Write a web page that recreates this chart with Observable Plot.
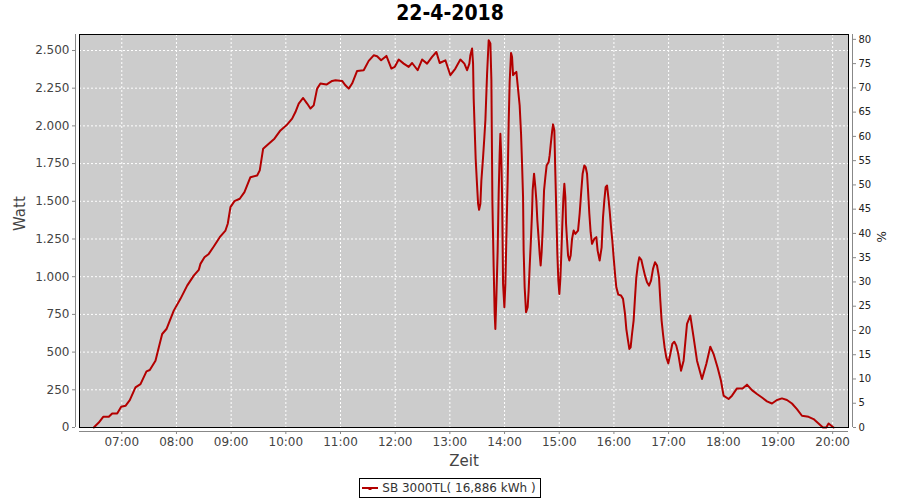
<!DOCTYPE html>
<html>
<head>
<meta charset="utf-8">
<script src="https://cdn.jsdelivr.net/npm/d3@7"></script>
<script src="https://cdn.jsdelivr.net/npm/@observablehq/plot@0.6"></script>
<style>
  html, body { margin: 0; padding: 0; background: #ffffff; }
  body { width: 900px; height: 500px; overflow: hidden; font-family: "DejaVu Sans", sans-serif; }
  #title { height: 30px; line-height: 27px; text-align: center; font-family: "Liberation Sans Narrow", "DejaVu Sans Condensed", sans-serif; font-weight: bold; font-size: 21px; color: #000; }
  #chart svg { display: block; }
  #legend { margin-top: 7px; text-align: center; height: 20px; }
  #legend .box { display: inline-flex; align-items: center; height: 18px; border: 1px solid #000; padding: 0 4px 0 2px; font-size: 12px; color: #333; font-family: "DejaVu Sans", sans-serif; }
  #legend svg { margin-right: 4px; }
</style>
</head>
<body>
<div id="title">22-4-2018</div>
<div id="chart"></div>
<div id="legend"><span class="box"><svg width="16" height="8"><line x1="0" y1="4" x2="16" y2="4" stroke="#b30000" stroke-width="2"/><rect x="6.5" y="3" width="3" height="3" fill="#b30000"/></svg><span id="legendText"></span></span></div>
<script>
// ---- data ----
const day = "2018-04-22";
const seriesName = "SB 3000TL( 16,886 kWh )";
const times = [
  "06:29:17","06:34:46","06:39:36","06:45:44","06:49:28","06:54:57","06:59:20","07:04:04","07:08:47","07:15:01",
  "07:20:31","07:27:06","07:30:43","07:36:58","07:40:35","07:44:19","07:49:02","07:57:02","08:04:23","08:11:44",
  "08:18:58","08:24:27","08:26:19","08:30:43","08:35:26","08:40:55","08:47:30","08:53:45","08:56:16","08:59:14",
  "09:03:37","09:09:26","09:14:35","09:21:10","09:28:31","09:31:23","09:35:07","09:41:15","09:47:30","09:54:05",
  "10:00:40","10:06:55","10:10:32","10:14:09","10:18:59","10:23:22","10:26:59","10:30:36","10:34:20","10:37:57",
  "10:44:32","10:50:47","10:54:24","11:01:45","11:05:23","11:09:00","11:12:44","11:18:13","11:25:27","11:30:56",
  "11:36:25","11:40:09","11:44:33","11:50:22","11:55:50","11:59:27","12:03:51","12:09:20","12:14:49","12:18:33",
  "12:24:41","12:29:30","12:34:59","12:40:28","12:45:11","12:48:49","12:55:04","13:00:33","13:06:02","13:11:31",
  "13:15:55","13:18:52","13:21:23","13:22:29","13:24:21","13:25:27","13:26:07","13:27:13","13:28:18","13:29:51",
  "13:30:57","13:32:03","13:33:28","13:34:34","13:36:26","13:37:52","13:38:58","13:40:50","13:42:35","13:44:27",
  "13:45:33","13:46:39","13:48:03","13:49:09","13:49:55","13:51:01","13:52:26","13:53:32","13:54:38","13:55:24",
  "13:56:30","13:57:16","13:58:22","13:59:48","14:00:54","14:02:00","14:03:24","14:04:30","14:05:36","14:07:08",
  "14:08:14","14:09:20","14:10:45","14:12:57","14:16:34","14:18:06","14:19:12","14:20:18","14:20:57","14:22:03",
  "14:23:35","14:25:20","14:26:26","14:27:32","14:29:04","14:30:10","14:30:50","14:32:22","14:33:47","14:34:53",
  "14:35:59","14:37:25","14:38:31","14:39:36","14:40:42","14:41:48","14:43:20","14:44:46","14:46:11","14:48:23",
  "14:49:28","14:50:34","14:52:06","14:53:12","14:54:38","14:55:44","14:56:50","14:57:56","14:59:02","15:00:08",
  "15:01:14","15:02:19","15:03:25","15:04:31","15:05:37","15:06:43","15:07:29","15:08:35","15:09:41","15:11:06",
  "15:12:32","15:14:04","15:15:49","15:17:41","15:20:38","15:22:23","15:24:15","15:25:40","15:27:32","15:28:58",
  "15:30:30","15:31:36","15:33:02","15:34:27","15:35:59","15:38:30","15:40:42","15:42:08","15:44:20","15:46:31",
  "15:48:03","15:49:29","15:50:55","15:52:27","15:53:52","15:55:18","15:56:50","15:58:15","15:59:41","16:01:13",
  "16:02:38","16:04:50","16:07:48","16:09:59","16:12:11","16:13:37","16:15:29","16:16:55","16:18:20","16:19:52",
  "16:21:37","16:23:09","16:24:34","16:26:26","16:27:52","16:30:03","16:31:55","16:34:07","16:36:19","16:38:31",
  "16:40:43","16:42:54","16:45:06","16:47:18","16:49:29","16:50:55","16:52:20","16:53:52","16:55:37","16:57:29",
  "16:59:41","17:01:53","17:04:04","17:06:16","17:08:27","17:10:39","17:13:37","17:16:28","17:20:12","17:23:49",
  "17:27:26","17:31:10","17:36:39","17:41:22","17:45:45","17:49:22","17:53:45","17:57:29","18:00:20","18:05:49",
  "18:09:33","18:15:02","18:21:10","18:26:00","18:31:29","18:36:58","18:42:27","18:47:56","18:53:25","18:58:54",
  "19:04:23","19:09:52","19:15:21","19:20:50","19:26:19","19:33:34","19:39:03","19:44:32","19:49:22","19:53:00",
  "19:55:31","20:01:00"
];
const watts = [
  0,33,71,71,93,93,137,144,182,266,
  288,372,381,443,531,620,653,775,853,941,
  1007,1045,1085,1129,1151,1200,1262,1306,1351,1461,
  1501,1517,1561,1660,1671,1705,1849,1882,1915,1970,
  2004,2048,2092,2148,2185,2148,2115,2136,2247,2281,
  2274,2298,2302,2298,2269,2247,2281,2364,2369,2431,
  2468,2462,2435,2464,2380,2391,2440,2413,2391,2417,
  2369,2440,2413,2457,2490,2417,2435,2336,2380,2440,
  2413,2369,2413,2469,2513,2413,2181,1982,1782,1605,
  1484,1444,1484,1638,1793,1926,2037,2347,2568,2546,
  2302,1494,1063,753,653,863,1173,1550,1816,1948,
  1771,1550,952,797,952,1262,1638,2015,2291,2484,
  2457,2336,2347,2358,2136,1948,1749,1527,1173,930,
  764,797,908,1063,1262,1428,1572,1683,1594,1506,
  1373,1251,1151,1074,1162,1306,1572,1660,1738,1760,
  1804,1871,1959,2010,1970,1683,1417,1151,974,886,
  986,1151,1351,1517,1616,1527,1351,1240,1140,1107,
  1140,1251,1306,1284,1306,1417,1572,1683,1738,1727,
  1683,1572,1417,1295,1218,1251,1262,1173,1107,1195,
  1395,1506,1594,1605,1527,1439,1328,1240,1129,1019,
  930,881,875,853,753,653,576,521,531,620,
  709,863,996,1085,1129,1112,1063,1007,963,941,
  974,1052,1096,1074,996,841,709,620,531,465,
  425,487,554,569,543,487,377,443,687,742,
  598,443,321,421,536,487,398,310,211,189,
  211,259,259,284,248,222,199,173,159,182,
  193,182,159,122,78,71,56,27,0,0,
  27,0
];
const hourTicks = ["07:00","08:00","09:00","10:00","11:00","12:00","13:00","14:00","15:00","16:00","17:00","18:00","19:00","20:00"];
const xDomain = ["06:13:36", "20:17:24"];
const wattTicks = [0, 250, 500, 750, 1000, 1250, 1500, 1750, 2000, 2250, 2500];
const wattMax = 2606;
const pctTicks = [0, 5, 10, 15, 20, 25, 30, 35, 40, 45, 50, 55, 60, 65, 70, 75, 80];
const pctMax = 81;

// ---- build ----
const parse = s => new Date(`${day}T${s.length === 5 ? s + ":00" : s}`);
const data = times.map((t, i) => ({t: parse(t), w: watts[i]}));
const hourDates = hourTicks.map(parse);
const xDom = xDomain.map(parse);
const wPerPct = wattMax / pctMax;
const pctTickW = pctTicks.map(p => p * wPerPct);
const de = d3.formatLocale({decimal: ",", thousands: ".", grouping: [3], currency: ["", "€"]});
const fmtW = de.format(",");
const axisGray = "#888888";
const textGray = "#444444";
const grid = {stroke: "white", strokeOpacity: 1, strokeWidth: 1, strokeDasharray: "2,2"};

document.getElementById("legendText").textContent = seriesName;

const chart = Plot.plot({
  width: 900,
  height: 440,
  marginLeft: 79,
  marginRight: 52,
  marginTop: 4,
  marginBottom: 43,
  style: {fontFamily: "DejaVu Sans, sans-serif", fontSize: "12px", background: "white", color: textGray, overflow: "visible"},
  x: {type: "time", domain: xDom},
  y: {domain: [0, wattMax]},
  marks: [
    Plot.frame({fill: "#cccccc", stroke: "none"}),
    Plot.gridX({ticks: hourDates, ...grid}),
    Plot.gridY({ticks: wattTicks, ...grid}),
    Plot.line(data, {x: "t", y: "w", stroke: "#b30000", strokeWidth: 2, curve: "linear"}),
    Plot.frame({stroke: "black", strokeWidth: 1}),
    Plot.axisY({anchor: "left", ticks: wattTicks, tickFormat: fmtW, dx: -4, tickSize: 3, tickPadding: 3, label: null, stroke: axisGray, fill: textGray}),
    Plot.ruleX([xDom[0]], {dx: -4, stroke: axisGray}),
    Plot.axisY({anchor: "right", ticks: pctTickW, tickFormat: d => String(Math.round(d / wPerPct)), dx: 4, tickSize: 3, tickPadding: 3, fontSize: 10, label: null, stroke: axisGray, fill: "#222"}),
    Plot.ruleX([xDom[1]], {dx: 4, stroke: axisGray}),
    Plot.axisX({ticks: hourDates, tickFormat: d3.timeFormat("%H:%M"), dy: 4, tickSize: 3, tickPadding: 3, label: null, stroke: axisGray, fill: textGray}),
    Plot.ruleY([0], {dy: 4, stroke: axisGray}),
    Plot.text(["Watt"], {frameAnchor: "left", dx: -59, rotate: -90, fontSize: 15, fill: textGray}),
    Plot.text(["%"], {frameAnchor: "right", dx: 34, rotate: -90, fontSize: 12, fill: "#222"}),
    Plot.text(["Zeit"], {frameAnchor: "bottom", dy: 38, fontSize: 15, fill: textGray})
  ]
});
document.getElementById("chart").appendChild(chart);
</script>
</body>
</html>
